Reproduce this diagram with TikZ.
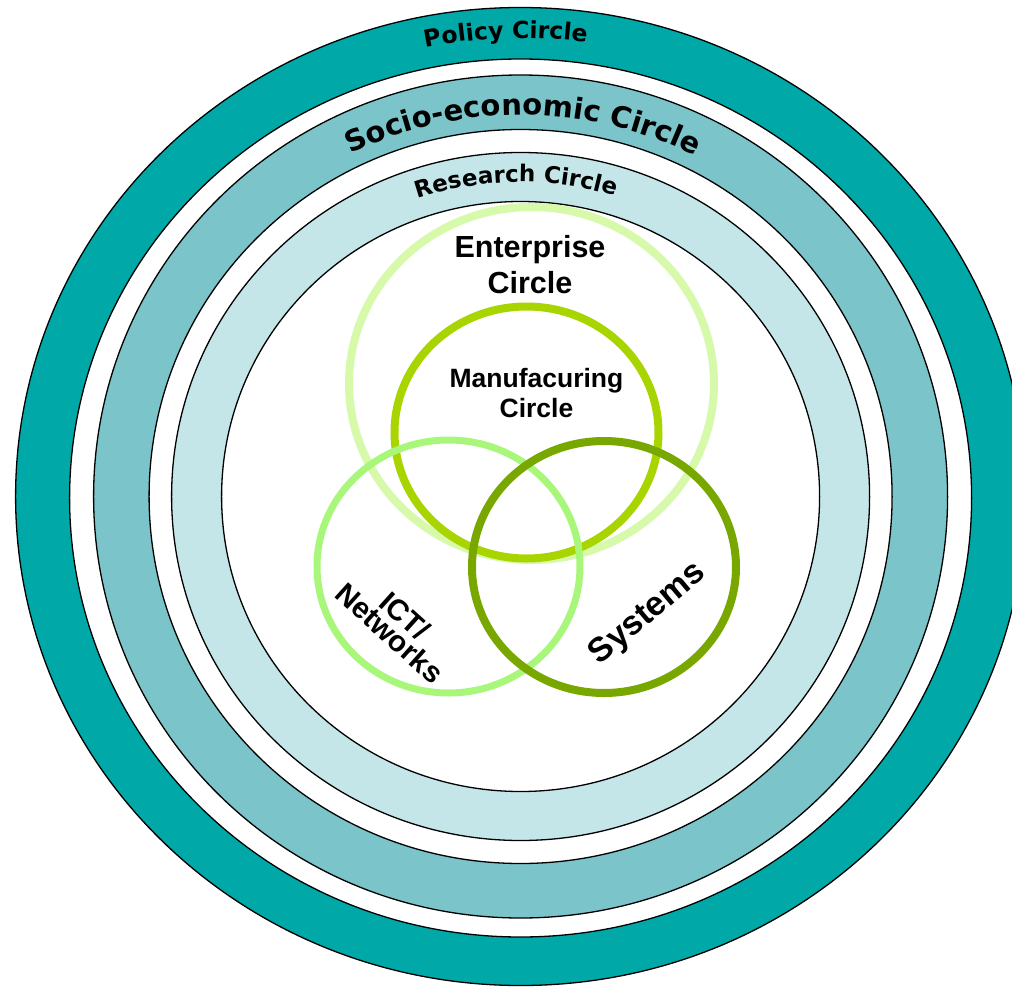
\documentclass[tikz,border=0pt]{standalone}
\usepackage{fontspec}
\setmainfont{Liberation Sans}
\newfontfamily\ringfont{DejaVu Sans}
\usetikzlibrary{decorations.text}
\definecolor{policyc}{HTML}{00A8A8}
\definecolor{socioc}{HTML}{7AC4CA}
\definecolor{researchc}{HTML}{C4E6E8}
\definecolor{enterc}{HTML}{D6FAAA}
\definecolor{manuc}{HTML}{A8D400}
\definecolor{ictc}{HTML}{A8F77A}
\definecolor{sysc}{HTML}{78A800}
\begin{document}
\begin{tikzpicture}[x=1pt,y=1pt,
  ring/.style={draw=black,line width=1.3pt},
  venn/.style={line width=8pt},
  lbl/.style={inner sep=0pt,text=black,font=\bfseries}]
\useasboundingbox (-520.6,-489.5) rectangle (491.4,496.5);
\fill[white] (-520.6,-489.5) rectangle (491.4,496.5);
% rings
\filldraw[ring,fill=policyc] (0,0) ellipse [x radius=505,y radius=489];
\filldraw[ring,fill=white] (0,-1.5) ellipse [x radius=451,y radius=439];
\filldraw[ring,fill=socioc] (0,0) ellipse [x radius=427,y radius=421.5];
\filldraw[ring,fill=white] (0,0) ellipse [x radius=371.5,y radius=367];
\filldraw[ring,fill=researchc] (0,0) ellipse [x radius=349,y radius=344];
\filldraw[ring,fill=white] (0,0) ellipse [x radius=299,y radius=295];
% curved labels
\path[decorate,decoration={text along path,text align=center,
  text={|\ringfont\bfseries\fontsize{23.5}{26}\selectfont|Policy Circle}}]
  (131.8:471 and 458.5) arc[start angle=131.8,end angle=51.8,x radius=471,y radius=458.5];
\path[decorate,decoration={text along path,text align=center,
  text={|\ringfont\bfseries\fontsize{29}{34}\selectfont|Socio-economic Circle}}]
  (134.6:386.5 and 381.5) arc[start angle=134.6,end angle=44.6,x radius=386.5,y radius=381.5];
\path[decorate,decoration={text along path,text align=center,
  text={|\ringfont\bfseries\fontsize{23}{25}\selectfont|Research Circle}}]
  (130.8:318.5 and 314.5) arc[start angle=130.8,end angle=50.8,x radius=318.5,y radius=314.5];
% venn circles
\draw[venn,enterc] (10.9,113) ellipse [x radius=182.5,y radius=176.5];
\draw[venn,manuc] (5.9,64) ellipse [x radius=132,y radius=126];
\draw[venn,ictc,line width=7pt] (-72.1,-70) ellipse [x radius=131.5,y radius=126.5];
\draw[venn,sysc] (83.4,-70.5) ellipse [x radius=132,y radius=126];
% labels
\node[lbl,anchor=base] (ent1) at (9.4,239.5) {\fontsize{30.5}{36}\selectfont Enterprise};
\node[lbl,anchor=base] (ent2) at (9.4,203.5) {\fontsize{30.5}{36}\selectfont Circle};
\node[lbl,anchor=base] (man1) at (15.9,109.5) {\fontsize{26.5}{30}\selectfont Manufacuring};
\node[lbl,anchor=base] (man2) at (15.9,79.5) {\fontsize{26.5}{30}\selectfont Circle};
\node[lbl,align=center,rotate=-42] (ict) at (-123,-128) {\fontsize{29.5}{36}\selectfont ICT/\\\fontsize{29.5}{36}\selectfont Networks};
\node[lbl,rotate=40] (sys) at (127.4,-117.5) {\fontsize{34}{38}\selectfont Systems};
\end{tikzpicture}
\end{document}
